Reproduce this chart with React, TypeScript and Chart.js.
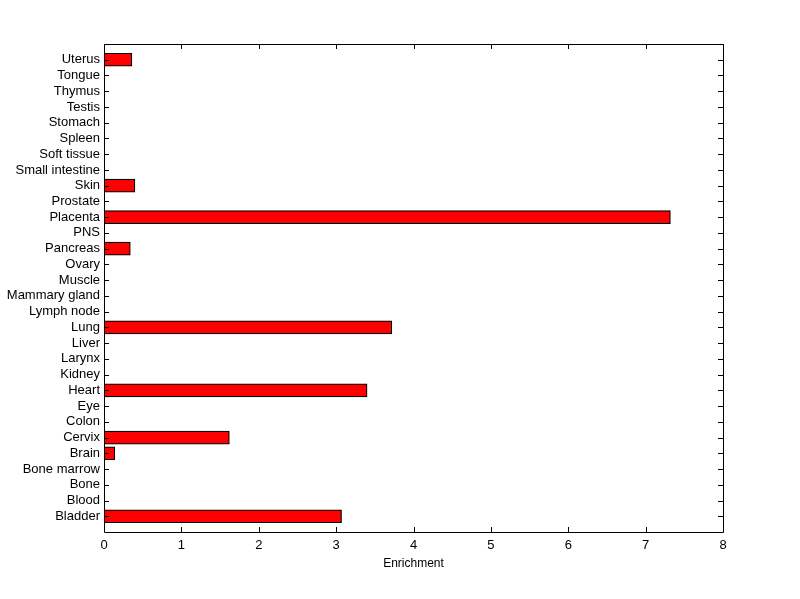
import React, { useEffect, useRef } from "react";
import { Chart, registerables } from "chart.js";

Chart.register(...registerables);

const tissues: string[] = [
  "Bladder", "Blood", "Bone", "Bone marrow", "Brain", "Cervix", "Colon", "Eye",
  "Heart", "Kidney", "Larynx", "Liver", "Lung", "Lymph node", "Mammary gland",
  "Muscle", "Ovary", "Pancreas", "PNS", "Placenta", "Prostate", "Skin",
  "Small intestine", "Soft tissue", "Spleen", "Stomach", "Testis", "Thymus",
  "Tongue", "Uterus",
];

const enrichment: number[] = [
  3.07, 0, 0, 0, 0.14, 1.62, 0, 0,
  3.4, 0, 0, 0, 3.72, 0, 0,
  0, 0, 0.34, 0, 7.32, 0, 0.4,
  0, 0, 0, 0, 0, 0,
  0, 0.36,
];

const xTicks: number[] = [0, 1, 2, 3, 4, 5, 6, 7, 8];
const xTitle = "Enrichment";

const FONT = "'Liberation Sans', Arial, Helvetica, sans-serif";

const innerTicks = {
  id: "innerTicks",
  afterDraw(chart: any) {
    const { ctx, chartArea } = chart;
    const xs = chart.scales.x;
    const ys = chart.scales.y;
    const L = 5;
    ctx.save();
    ctx.strokeStyle = "#000";
    ctx.lineWidth = 1;
    ctx.beginPath();
    ctx.rect(
      Math.round(chartArea.left) + 0.5,
      Math.round(chartArea.top) + 0.5,
      Math.round(chartArea.right - chartArea.left),
      Math.round(chartArea.bottom - chartArea.top)
    );
    for (const t of xTicks) {
      const px = Math.round(xs.getPixelForValue(t)) + 0.5;
      ctx.moveTo(px, chartArea.bottom);
      ctx.lineTo(px, chartArea.bottom - L);
      ctx.moveTo(px, chartArea.top);
      ctx.lineTo(px, chartArea.top + L);
    }
    tissues.forEach((_, i) => {
      const py = Math.round(ys.getPixelForValue(i + 1)) + 0.5;
      ctx.moveTo(chartArea.left, py);
      ctx.lineTo(chartArea.left + L, py);
      ctx.moveTo(chartArea.right, py);
      ctx.lineTo(chartArea.right - L, py);
    });
    ctx.stroke();
    ctx.restore();
  },
};

export default function App() {
  const ref = useRef<HTMLCanvasElement | null>(null);

  useEffect(() => {
    document.body.style.margin = "0";
    const canvas = ref.current;
    if (!canvas) return;
    const chart = new Chart(canvas, {
      type: "bar",
      data: {
        datasets: [
          {
            data: enrichment.map((v, i) => ({ x: v, y: i + 1 })),
            backgroundColor: "#ff0000",
            borderColor: "#000000",
            borderWidth: 1.2,
            borderSkipped: false,
            barThickness: 13,
          },
        ],
      },
      options: {
        indexAxis: "y",
        animation: false,
        responsive: false,
        maintainAspectRatio: false,
        layout: { padding: { top: 44, right: 77, left: 0, bottom: 28 } },
        plugins: {
          legend: { display: false },
          tooltip: { enabled: false },
        },
        scales: {
          x: {
            type: "linear",
            min: 0,
            max: 8,
            afterBuildTicks: (s: any) => {
              s.ticks = xTicks.map((v) => ({ value: v }));
            },
            afterFit: (s: any) => {
              s.height = 39;
            },
            grid: { display: false, drawTicks: false },
            border: { display: false },
            ticks: {
              color: "#000",
              font: { family: FONT, size: 13 },
              padding: 6,
              maxRotation: 0,
            },
            title: {
              display: true,
              text: xTitle,
              color: "#000",
              font: { family: FONT, size: 12 },
              padding: { top: 0, bottom: 0 },
            },
          },
          y: {
            type: "linear",
            min: 0,
            max: 31,
            offset: false,
            afterBuildTicks: (s: any) => {
              s.ticks = tissues.map((_, i) => ({ value: i + 1 }));
            },
            afterFit: (s: any) => {
              s.width = 104;
            },
            grid: { display: false, drawTicks: false, offset: false },
            border: { display: false },
            ticks: {
              color: "#000",
              font: { family: FONT, size: 13 },
              padding: 4,
              autoSkip: false,
              callback: (v: any) => tissues[Number(v) - 1] ?? "",
            },
          },
        },
      },
      plugins: [innerTicks],
    });
    return () => chart.destroy();
  }, []);

  return (
    <div style={{ width: 800, height: 599, background: "#fff" }}>
      <canvas ref={ref} width={800} height={599} style={{ display: "block" }} />
    </div>
  );
}
